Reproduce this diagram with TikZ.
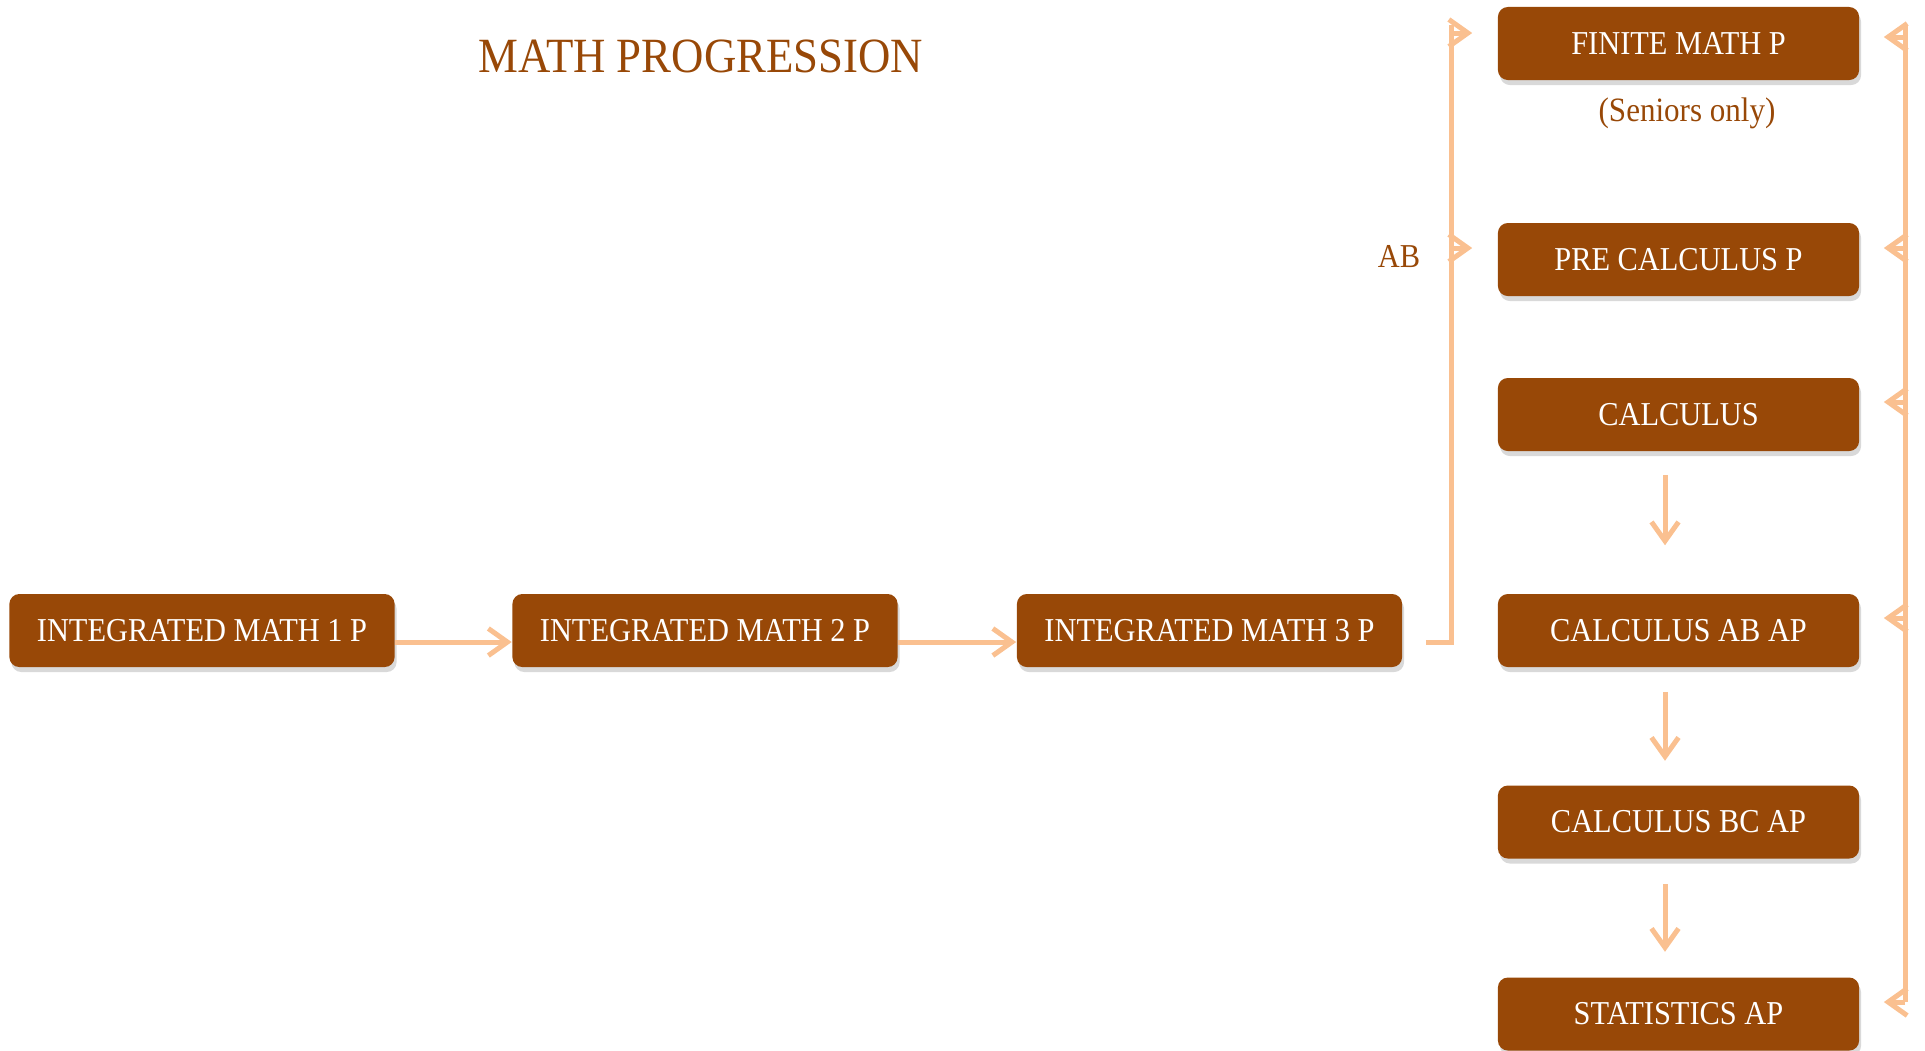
\documentclass[tikz,border=0pt]{standalone}
\usepackage{fontspec}
\setmainfont{Liberation Serif}[FakeStretch=0.91]
\usetikzlibrary{arrows.meta,shadows,positioning}
\definecolor{rust}{HTML}{984807}
\definecolor{peach}{HTML}{FAC090}
\tikzset{
  course/.style={fill=rust, text=white, rounded corners=1mm, minimum height=0.73cm, inner sep=0pt,
    font=\fontsize{9.5}{11}\selectfont,
    drop shadow={shadow xshift=0.02cm, shadow yshift=-0.05cm, opacity=0.3}},
  widecourse/.style={course, minimum width=3.85cm},
  rightcourse/.style={course, minimum width=3.61cm},
  flow/.style={peach, line width=0.05cm, -{Straight Barb[length=1.9mm, width=2.7mm]}},
  bus/.style={peach, line width=0.05cm},
  note/.style={text=rust, inner sep=0pt}
}
\begin{document}
\begin{tikzpicture}[x=0.01cm, y=-0.01cm]
  \useasboundingbox (0,0) rectangle (1925,1050);

  % title
  \node[note, font=\fontsize{14}{16}\selectfont] (title) at (701,56) {MATH PROGRESSION};

  % === integrated math row ===
  \node[widecourse] (im1) at (202,630.5) {INTEGRATED MATH 1 P};
  \node[widecourse] (im2) at (705,630.5) {INTEGRATED MATH 2 P};
  \node[widecourse] (im3) at (1209.5,630.5) {INTEGRATED MATH 3 P};

  % === right column ===
  \node[rightcourse] (fin) at (1678.5,43.5) {FINITE MATH P};
  \node[note, font=\fontsize{9.7}{11}\selectfont] (seniors) at (1687,113) {(Seniors only)};
  \node[rightcourse] (pre) at (1678.5,259.5) {PRE CALCULUS P};
  \node[rightcourse] (calc) at (1678.5,414.5) {CALCULUS};
  \node[rightcourse] (ab) at (1678.5,630.5) {CALCULUS AB AP};
  \node[rightcourse] (bc) at (1678.5,822) {CALCULUS BC AP};
  \node[rightcourse] (stat) at (1678.5,1014) {STATISTICS AP};

  \node[note, font=\fontsize{9.5}{11}\selectfont] (ablabel) at (1399,256) {AB};

  % row arrows
  \draw[flow] ([yshift=-0.115cm]im1.east) -- ([yshift=-0.115cm]im2.west);
  \draw[flow] ([yshift=-0.115cm]im2.east) -- ([yshift=-0.115cm]im3.west);

  % left bus out of math 3
  \coordinate (busl) at (1451,25);
  \coordinate (finl) at ([xshift=-0.25cm, yshift=0.105cm]fin.west);
  \coordinate (prel) at ([xshift=-0.25cm, yshift=0.115cm]pre.west);
  \draw[bus] ([xshift=0.23cm, yshift=-0.115cm]im3.east) -| (busl);
  \draw[flow] (busl |- finl) -- (finl);
  \draw[flow] (busl |- prel) -- (prel);

  % right bus
  \coordinate (busr) at (1905,25);
  \coordinate (finr) at ([xshift=0.24cm, yshift=0.065cm]fin.east);
  \coordinate (prer) at ([xshift=0.24cm, yshift=0.115cm]pre.east);
  \coordinate (calcr) at ([xshift=0.24cm, yshift=0.125cm]calc.east);
  \coordinate (abr) at ([xshift=0.24cm, yshift=0.125cm]ab.east);
  \coordinate (statr) at ([xshift=0.24cm, yshift=0.12cm]stat.east);
  \draw[bus] (busr) -- (busr |- statr);
  \foreach \t in {finr,prer,calcr,abr,statr}
    \draw[flow] (busr |- \t) -- (\t);

  % down arrows
  \draw[flow] ([xshift=-0.135cm, yshift=-0.23cm]calc.south) -- ([xshift=-0.135cm, yshift=0.48cm]ab.north);
  \draw[flow] ([xshift=-0.135cm, yshift=-0.24cm]ab.south) -- ([xshift=-0.135cm, yshift=0.24cm]bc.north);
  \draw[flow] ([xshift=-0.135cm, yshift=-0.25cm]bc.south) -- ([xshift=-0.135cm, yshift=0.25cm]stat.north);
\end{tikzpicture}
\end{document}
